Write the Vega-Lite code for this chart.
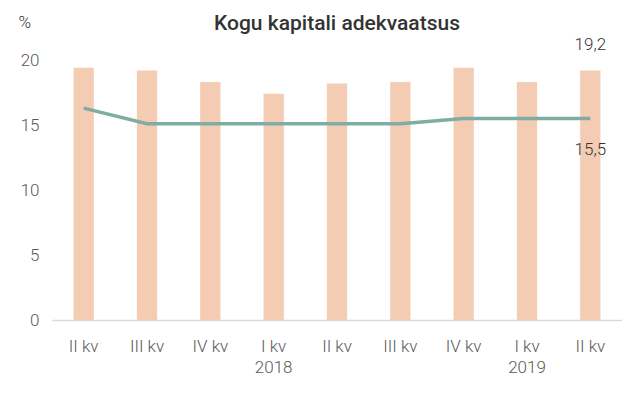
{
  "$schema": "https://vega.github.io/schema/vega-lite/v6.json",
  "width": 570,
  "height": 260,
  "padding": {"left": 18, "top": 13, "right": 0, "bottom": 0},
  "config": {"font": "Roboto", "view": {"stroke": null}},
  "title": {"text": "Kogu kapitali adekvaatsus", "fontSize": 21, "fontWeight": 500, "color": "#333333", "anchor": "middle", "offset": -21},
  "data": {
    "values": [
      {"q": "II kv 2017", "cap": 19.4, "lim": 16.3},
      {"q": "III kv 2017", "cap": 19.2, "lim": 15.1},
      {"q": "IV kv 2017", "cap": 18.3, "lim": 15.1},
      {"q": "I kv 2018", "cap": 17.4, "lim": 15.1},
      {"q": "II kv 2018", "cap": 18.2, "lim": 15.1},
      {"q": "III kv 2018", "cap": 18.3, "lim": 15.1},
      {"q": "IV kv 2018", "cap": 19.4, "lim": 15.5},
      {"q": "I kv 2019", "cap": 18.3, "lim": 15.5},
      {"q": "II kv 2019", "cap": 19.2, "lim": 15.5}
    ]
  },
  "resolve": {"axis": {"x": "independent"}},
  "layer": [
    {
      "mark": {"type": "bar", "color": "#F4CBB3"},
      "encoding": {
        "x": {
          "field": "q", "type": "nominal", "sort": null,
          "scale": {"paddingInner": 0.68, "paddingOuter": 0.34},
          "axis": {
            "orient": "bottom",
            "title": null, "labelAngle": 0, "labelFontSize": 17, "labelColor": "#595959", "labelFontWeight": 300,
            "labelExpr": "slice(datum.value,0,4)=='I kv' ? 'I kv' : slice(datum.value,0,-5)",
            "labelPadding": 18, "ticks": false,
            "domainColor": "#d9d9d9", "domainWidth": 1.5
          }
        },
        "y": {
          "field": "cap", "type": "quantitative",
          "scale": {"domain": [0, 20], "nice": false},
          "axis": {
            "title": "%", "titleAngle": 0, "titleX": -34, "titleY": -38, "titleAlign": "left", "titleBaseline": "middle",
            "titleFontSize": 17, "titleFontWeight": 300, "titleColor": "#333333",
            "values": [0, 5, 10, 15, 20], "grid": false, "domain": false, "ticks": false,
            "labelFontSize": 17, "labelColor": "#595959", "labelFontWeight": 300, "labelPadding": 13
          }
        }
      }
    },
    {
      "mark": {"type": "line", "strokeWidth": 3.5},
      "encoding": {
        "x": {"field": "q", "type": "nominal", "sort": null, "axis": null},
        "y": {"field": "lim", "type": "quantitative"},
        "color": {
          "datum": "LHV sisemine CAD piirmäär",
          "scale": {"range": ["#7FADA3"]},
          "legend": {
            "title": null, "orient": "none", "legendX": 28, "legendY": 336,
            "symbolType": "stroke", "symbolStrokeWidth": 3.5, "symbolSize": 2025,
            "labelFontSize": 17, "labelFontWeight": 300, "labelColor": "#333333", "labelLimit": 400, "labelOffset": 5
          }
        }
      }
    },
    {
      "transform": [
        {"filter": "datum.q == 'II kv 2019'"},
        {"calculate": "replace(format(datum.cap,'.1f'),'.',',')", "as": "t"}
      ],
      "mark": {"type": "text", "fontSize": 17, "fontWeight": 300, "color": "#333333", "dy": -25, "baseline": "middle"},
      "encoding": {
        "x": {"field": "q", "type": "nominal", "sort": null, "axis": null},
        "y": {"field": "cap", "type": "quantitative"},
        "text": {"field": "t"}
      }
    },
    {
      "transform": [
        {"calculate": "replace(format(datum.lim,'.1f'),'.',',')", "as": "t"},
        {"calculate": "datum.q == 'II kv 2019' ? datum.t : ''", "as": "t2"}
      ],
      "mark": {"type": "text", "fontSize": 17, "fontWeight": 300, "color": "#333333", "dy": 31, "baseline": "middle"},
      "encoding": {
        "x": {
          "field": "q", "type": "nominal", "sort": null,
          "axis": {
            "orient": "bottom", "offset": 32,
            "title": null, "labelAngle": 0, "labelFontSize": 17, "labelColor": "#595959", "labelFontWeight": 300,
            "labelExpr": "slice(datum.value,0,4)=='I kv' ? slice(datum.value,-4) : ''",
            "labelPadding": 7, "domain": false, "ticks": false
          }
        },
        "y": {"field": "lim", "type": "quantitative"},
        "text": {"field": "t2"}
      }
    }
  ]
}
